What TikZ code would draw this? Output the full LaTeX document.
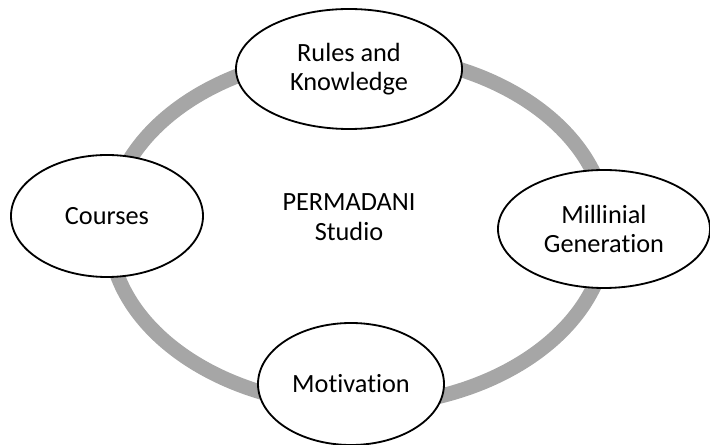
\documentclass[tikz,border=0pt]{standalone}
\usepackage{fontspec}
\setmainfont{Carlito}[Ligatures=NoCommon]
\usetikzlibrary{shapes.geometric}
\definecolor{ringgray}{RGB}{166,166,166}
\begin{document}
\begin{tikzpicture}[
    bubble/.style={ellipse, draw=black, line width=1.3pt, fill=white, inner sep=0pt, align=center,
      font=\fontsize{18.7}{21}\selectfont},
    ring/.style={draw=ringgray, line width=10.5pt}]
	\useasboundingbox (-8.95,-5.375) rectangle (8.8,5.75);
	\draw[ring] (0,0) ellipse (6.225 and 4.4);
	\node[bubble, minimum width=5.65cm, minimum height=3cm] (rules) at (-0.225,4.025) {Rules and\\Knowledge};
	\node[bubble, minimum width=4.8cm, minimum height=3.05cm] (courses) at (-6.275,0.35) {Courses};
	\node[bubble, minimum width=5.3cm, minimum height=2.95cm] (millinial) at (6.15,0.025) {Millinial\\Generation};
	\node[bubble, minimum width=4.65cm, minimum height=3.05cm] (motivation) at (-0.175,-3.85) {Motivation};
	\node[align=center, font=\fontsize{18.7}{21}\selectfont] (studio) at (-0.225,0.325) {PERMADANI\\Studio};
\end{tikzpicture}
\end{document}
